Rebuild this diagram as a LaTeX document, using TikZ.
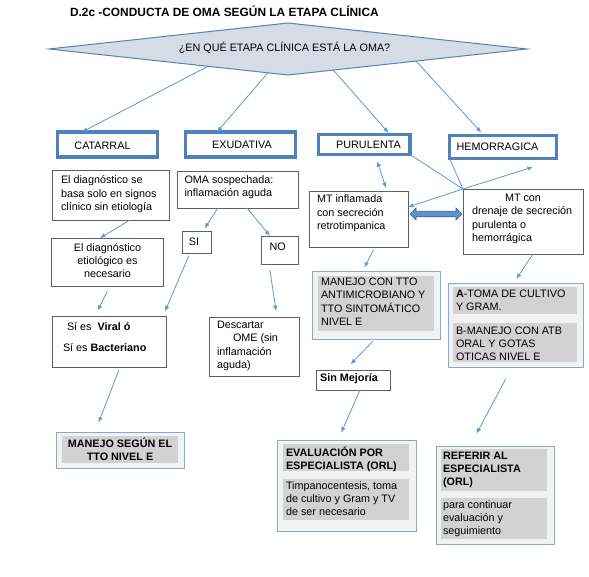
\documentclass[tikz,border=0pt]{standalone}
\usepackage{fontspec}
\setmainfont{Liberation Sans}
\usetikzlibrary{shapes.geometric,shapes.arrows,arrows.meta,calc}
\definecolor{arrblue}{RGB}{91,155,213}
\definecolor{boxblue}{RGB}{79,129,189}
\definecolor{diafill}{RGB}{214,220,229}
\definecolor{diadraw}{RGB}{84,130,184}
\definecolor{gbord}{RGB}{140,165,200}
\definecolor{gout}{RGB}{242,242,242}
\definecolor{gin}{RGB}{210,210,210}
\definecolor{pbord}{RGB}{95,95,95}
\definecolor{dbldraw}{RGB}{55,95,150}
\definecolor{dblfill}{RGB}{95,145,205}
\begin{document}
\begin{tikzpicture}[x=1pt,y=-1pt,
  every node/.style={inner sep=0pt,outer sep=0pt},
  fnt/.style={font=\fontsize{10.8}{13.3}\selectfont},
  bfnt/.style={font=\fontsize{10.8}{13.3}\selectfont\bfseries},
  txt/.style={fnt,anchor=north west,align=left,execute at begin node=\strut},
  btxt/.style={bfnt,anchor=north west,align=left,execute at begin node=\strut},
  dbox/.style={draw=boxblue,line width=3.4pt,anchor=north west,rectangle,
    append after command={
      (\tikzlastnode.north west) ++(0.7pt,-0.7pt) coordinate (dbA)
      (\tikzlastnode.south east) ++(-0.7pt,0.7pt) coordinate (dbB)
      [draw=white,line width=0.6pt] (dbA) rectangle (dbB)}},
  pbox/.style={draw=pbord,line width=0.8pt,fill=white,anchor=north west,rectangle},
  gbox/.style={draw=gbord,line width=1pt,fill=gout,anchor=north west,rectangle},
  ibox/.style={fill=gin,anchor=north west,rectangle},
  arr/.style={draw=arrblue,line width=0.8pt,-{Latex[length=5.5pt,width=4.5pt]}},
  arrb/.style={draw=arrblue,line width=0.8pt,{Latex[length=5.5pt,width=4.5pt]}-{Latex[length=5.5pt,width=4.5pt]}},
  ln/.style={draw=arrblue,line width=0.8pt}
]
\useasboundingbox[fill=white] (0,0) rectangle (589,577);

% title
\node[font=\fontsize{11.9}{14}\selectfont\bfseries,anchor=base west] (title) at (70,17) {D.2c -CONDUCTA DE OMA SEGÚN LA ETAPA CLÍNICA};

% decision
\node[diamond,aspect=9.2,minimum width=478pt,minimum height=52pt,draw=diadraw,fill=diafill,line width=1pt] (q) at (288,49) {};
\node[fnt,anchor=base] (qt) at (284.5,52) {¿EN QUÉ ETAPA CLÍNICA ESTÁ LA OMA?};

% stage boxes
\node[dbox,minimum width=100pt,minimum height=25pt] (cat) at (57.5,132) {};
\node[dbox,minimum width=110pt,minimum height=25pt] (exu) at (185.5,132) {};
\node[dbox,minimum width=91.5pt,minimum height=20pt] (pur) at (318.5,134.5) {};
\node[dbox,minimum width=107pt,minimum height=23pt] (hem) at (449.5,135.5) {};
\node[fnt,anchor=base] (catt) at (102.5,150) {CATARRAL};
\node[fnt,anchor=base] (exut) at (242,149) {EXUDATIVA};
\node[fnt,anchor=base] (purt) at (368.5,149) {PURULENTA};
\node[fnt,anchor=base] (hemt) at (497.5,150.6) {HEMORRAGICA};

% plain boxes
\node[pbox,minimum width=117pt,minimum height=50pt] (d1) at (52,170) {};
\node[pbox,minimum width=121pt,minimum height=37pt] (oma) at (177,171) {};
\node[pbox,minimum width=29pt,minimum height=22pt] (si) at (182,231) {};
\node[pbox,minimum width=37pt,minimum height=28pt] (no) at (261,236) {};
\node[pbox,minimum width=112pt,minimum height=48pt] (d2) at (51,238) {};
\node[pbox,minimum width=114pt,minimum height=51pt] (sies) at (52,316) {};
\node[pbox,minimum width=90pt,minimum height=59pt] (desc) at (209,317) {};
\node[pbox,minimum width=99pt,minimum height=56pt] (mt1) at (309,191) {};
\node[pbox,minimum width=120pt,minimum height=65pt] (mt2) at (463,189) {};
\node[pbox,minimum width=74pt,minimum height=20pt] (sinmej) at (316,370) {};

\node[txt] (d1t) at (61,175.9) {El diagnóstico se\\basa solo en signos\\clínico sin etiología};
\node[txt] (omat) at (184.5,175.2) {OMA sospechada:\\inflamación aguda};
\node[fnt,anchor=base] (sit) at (194,245.6) {SI};
\node[fnt,anchor=base] (not) at (277.7,250.6) {NO};
\node[fnt,anchor=north,align=center,execute at begin node=\strut] (d2t) at (107.5,243.2) {El diagnóstico\\etiológico es\\necesario};
\node[txt] (sies1) at (67,321.2) {Sí es\ \ \textbf{Viral ó}};
\node[txt] (sies2) at (63,342.2) {Sí es \textbf{Bacteriano}};
\node[txt] (desct) at (217,321.2) {Descartar\\\hspace*{16pt}OME (sin\\inflamación\\aguda)};
\node[txt] (mt1t) at (317,194.9) {MT inflamada\\con secreción\\retrotimpanica};
\node[txt] (mt2t) at (472,194.2) {\hspace*{33pt}MT con\\drenaje de secreción\\purulenta o\\hemorrágica};
\node[bfnt,anchor=base] (sinmejt) at (349,381.5) {Sin Mejoría};

% double arrow
\node[double arrow,draw=dbldraw,fill=dblfill,line width=0.6pt,minimum height=52pt,inner sep=2.5pt,double arrow head extend=3.2pt] (dbl) at (436,214) {};

% grey boxes
\node[gbox,minimum width=128pt,minimum height=67pt] (man1) at (312,272) {};
\node[ibox,minimum width=116pt,minimum height=55pt] (man1i) at (318,276) {};
\node[txt] (man1t) at (321,277.9) {MANEJO CON TTO\\ANTIMICROBIANO Y\\TTO SINTOMÁTICO\\NIVEL E};

\node[gbox,minimum width=135pt,minimum height=83pt] (atoma) at (448,284) {};
\node[ibox,minimum width=124pt,minimum height=27pt] (atomai) at (453,287) {};
\node[ibox,minimum width=124pt,minimum height=39pt] (atomaj) at (453,323) {};
\node[txt] (atomat) at (456,289.6) {\textbf{A}-TOMA DE CULTIVO\\Y GRAM.};
\node[txt] (atomau) at (456,326.6) {B-MANEJO CON ATB\\ORAL Y GOTAS\\OTICAS NIVEL E};

\node[gbox,minimum width=128pt,minimum height=36pt] (manseg) at (56,432) {};
\node[ibox,minimum width=116pt,minimum height=27pt] (mansegi) at (62,436) {};
\node[bfnt,anchor=north,align=center,execute at begin node=\strut] (mansegt) at (120,437.9) {MANEJO SEGÚN EL\\TTO NIVEL E};

\node[gbox,minimum width=139pt,minimum height=91pt] (eval) at (277,440) {};
\node[ibox,minimum width=126pt,minimum height=27pt] (evali) at (283,444) {};
\node[ibox,minimum width=126pt,minimum height=41pt] (evalj) at (283,479) {};
\node[btxt] (evalt) at (286,446.6) {EVALUACIÓN POR\\ESPECIALISTA (ORL)};
\node[txt] (evalu) at (286,481.2) {Timpanocentesis, toma\\de cultivo y Gram y TV\\de ser necesario};

\node[gbox,minimum width=118pt,minimum height=98pt] (ref) at (436,446) {};
\node[ibox,minimum width=106pt,minimum height=42pt] (refi) at (441,449) {};
\node[ibox,minimum width=106pt,minimum height=41pt] (refj) at (441,498) {};
\node[btxt] (reft) at (443,451.6) {REFERIR AL\\ESPECIALISTA\\(ORL)};
\node[txt] (refu) at (443,500.2) {para continuar\\evaluación y\\seguimiento};

% connectors
\draw[arr] ($(q.west)!0.665!(q.south)$) -- ([xshift=-25.5pt]cat.north);
\draw[arr] ($(q.west)!0.916!(q.south)$) -- ([xshift=-23.5pt]exu.north);
\draw[arr,shorten >=2pt] ($(q.south)!0.19!(q.east)$) -- ([xshift=25.75pt]pur.north);
\draw[arr,shorten >=4pt] ($(q.south)!0.536!(q.east)$) -- ([xshift=-19pt]hem.north);

\draw[arr] ([xshift=19.5pt]d1.south) -- ([xshift=-7pt]d2.north);
\draw[arr,shorten >=3pt] ([xshift=-19.5pt]oma.south) -- ([xshift=6.5pt]si.north);
\draw[arr] ([xshift=9.5pt]oma.south) -- ([xshift=-9.5pt]no.north);
\draw[arr,shorten <=3pt,shorten >=5pt] ([xshift=-6.5pt]si.south) -- ([xshift=-3pt]sies.north east);
\draw[arr,shorten <=6pt,shorten >=6pt] ([xshift=-10.5pt]no.south) -- ([xshift=23pt]desc.north);
\draw[arr,shorten <=6pt,shorten >=6pt] ([xshift=3pt]d2.south) -- ([xshift=-14pt]sies.north);
\draw[arr,shorten <=3pt,shorten >=10pt] ([xshift=11pt]sies.south) -- ([xshift=-25pt]manseg.north);

\draw[arrb,shorten <=7pt,shorten >=3pt] ([xshift=10.75pt]pur.south) -- ([xshift=28.5pt]mt1.north);
\draw[ln] (pur.south east) -- (mt2.north west);
\draw[ln] (hem.south west) -- (mt2.north west);
\draw[arr] (mt2.north west) -- ([yshift=12pt]mt1.east);
\draw[arr] (mt2.north west) -- ([xshift=30pt,yshift=-8.5pt]hem.south);

\draw[arr,shorten <=3pt,shorten >=5pt] ([xshift=16.5pt]mt1.south) -- ([xshift=-14pt]man1.north);
\draw[arr,shorten >=6pt] ([xshift=10pt]mt2.south) -- ([xshift=-2.5pt]atoma.north);
\draw[arr,shorten <=3pt,shorten >=8pt] ([xshift=-1pt]man1.south) -- ([xshift=-8pt]sinmej.north);
\draw[arr,shorten >=8pt] ([xshift=7pt]sinmej.south) -- ([xshift=-8.5pt]eval.north);
\draw[arr,shorten <=13pt,shorten >=14pt] ([xshift=-3.5pt]atoma.south) -- ([xshift=-25pt]ref.north);
\end{tikzpicture}
\end{document}
